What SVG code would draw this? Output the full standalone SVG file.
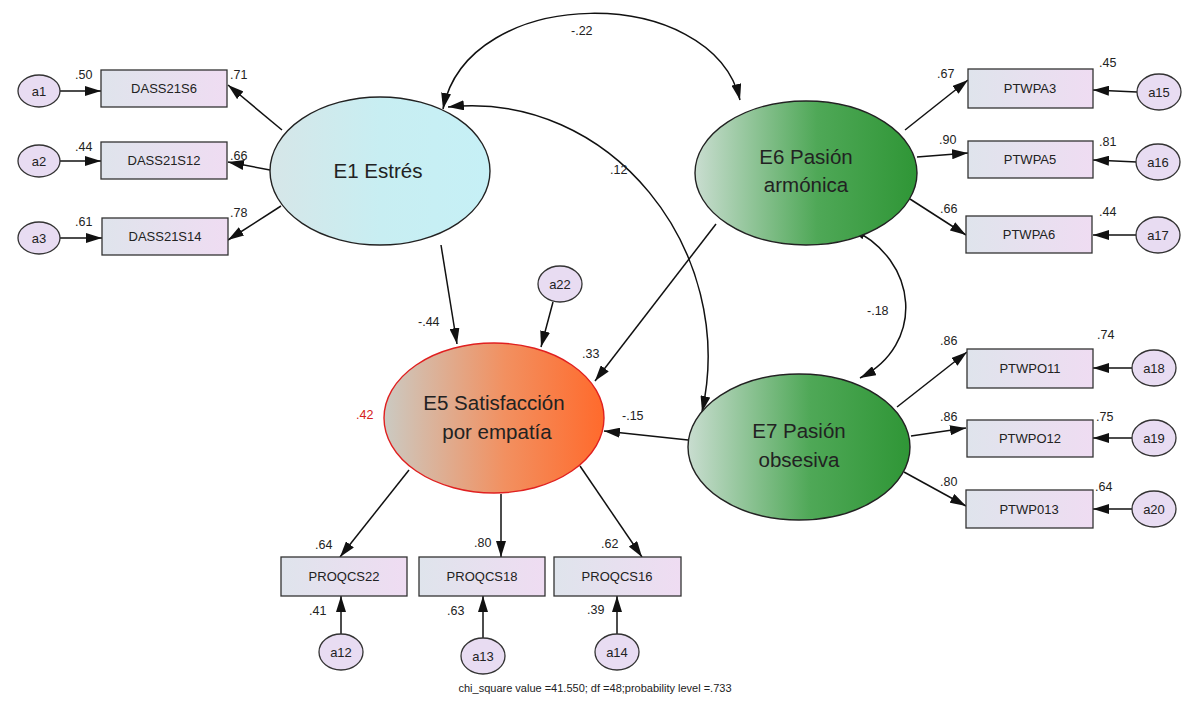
<svg xmlns="http://www.w3.org/2000/svg" width="1190" height="709" viewBox="0 0 1190 709">
<defs>
<style>
text{font-family:"Liberation Sans",Arial,sans-serif;fill:#222}
.lbl{font-size:12.5px}
.box{stroke:#333;stroke-width:1.3;fill:url(#gBox)}
.box-t{font-size:13px;text-anchor:middle}
.err{fill:#e8dcf2;stroke:#333;stroke-width:1.3}
.err-t{font-size:13px;text-anchor:middle}
.big{font-size:20.5px;text-anchor:middle}
.c path,.c line{stroke:#111;stroke-width:1.5;fill:none;marker-end:url(#ah)}
.c .both{marker-start:url(#ahs)}
</style>
<marker id="ah" viewBox="0 0 16 10" refX="16" refY="5" markerWidth="16" markerHeight="10" markerUnits="userSpaceOnUse" orient="auto"><path d="M0,0 L16,5 L0,10 Z" fill="#111"/></marker>
<marker id="ahs" viewBox="0 0 16 10" refX="0" refY="5" markerWidth="16" markerHeight="10" markerUnits="userSpaceOnUse" orient="auto"><path d="M16,0 L0,5 L16,10 Z" fill="#111"/></marker>
<linearGradient id="gBox" x1="0" y1="0" x2="1" y2="0"><stop offset="0" stop-color="#dfe4ec"/><stop offset="1" stop-color="#efdcf2"/></linearGradient>
<linearGradient id="gE1" x1="0" y1="0" x2="1" y2="0"><stop offset="0" stop-color="#d6e6e8"/><stop offset="0.5" stop-color="#c8eef2"/><stop offset="1" stop-color="#c6f0f6"/></linearGradient>
<linearGradient id="gG" x1="0" y1="0" x2="1" y2="0"><stop offset="0" stop-color="#c9ddd0"/><stop offset="0.55" stop-color="#4fa857"/><stop offset="1" stop-color="#2f9636"/></linearGradient>
<linearGradient id="gE5" x1="0" y1="0" x2="1" y2="0"><stop offset="0" stop-color="#cbcac2"/><stop offset="0.55" stop-color="#f29060"/><stop offset="1" stop-color="#ff6a2c"/></linearGradient>
</defs>
<rect width="1190" height="709" fill="#fff"/>

<g class="c" id="connectors">
<line x1="60" y1="91" x2="101" y2="91"/>
<line x1="60" y1="161" x2="101" y2="161"/>
<line x1="60" y1="238" x2="102" y2="238"/>
<line x1="282" y1="130" x2="228" y2="85"/>
<line x1="270" y1="170" x2="228" y2="162"/>
<line x1="281" y1="206" x2="228" y2="240"/>
<line x1="905" y1="130" x2="968" y2="80"/>
<line x1="917" y1="157" x2="968" y2="153"/>
<line x1="910" y1="199" x2="966" y2="235"/>
<line x1="1137" y1="92" x2="1093" y2="90"/>
<line x1="1137" y1="162" x2="1093" y2="160"/>
<line x1="1137" y1="235" x2="1093" y2="235"/>
<line x1="897" y1="407" x2="967" y2="352"/>
<line x1="911" y1="436" x2="966" y2="428"/>
<line x1="904" y1="472" x2="966" y2="506"/>
<line x1="1132" y1="368" x2="1093" y2="368"/>
<line x1="1132" y1="438" x2="1093" y2="438"/>
<line x1="1132" y1="509" x2="1093" y2="509"/>
<line x1="441" y1="245" x2="457" y2="344"/>
<line x1="553" y1="302" x2="541" y2="347"/>
<line x1="716" y1="224" x2="595" y2="381"/>
<line x1="688" y1="440" x2="604" y2="431"/>
<line x1="409" y1="470" x2="340" y2="557"/>
<line x1="501" y1="494" x2="501" y2="557"/>
<line x1="580" y1="466" x2="642" y2="557"/>
<line x1="341" y1="635" x2="341" y2="596"/>
<line x1="483" y1="638" x2="483" y2="596"/>
<line x1="617" y1="635" x2="617" y2="596"/>
<path class="both" d="M443,109 C468,-17 712,-17 740,100"/>
<path class="both" d="M448,107 C610,90 738,250 702,412"/>
<path class="both" d="M850,228 C920,260 925,345 860,378"/>
</g>

<g id="a1"><ellipse class="err" cx="39" cy="91" rx="21" ry="16"/><text class="err-t" x="39" y="96">a1</text></g>
<g id="a2"><ellipse class="err" cx="39" cy="161" rx="21" ry="16"/><text class="err-t" x="39" y="166">a2</text></g>
<g id="a3"><ellipse class="err" cx="39" cy="238" rx="21" ry="16"/><text class="err-t" x="39" y="243">a3</text></g>

<g id="DASS21S6"><rect class="box" x="101" y="70" width="126" height="37"/><text class="box-t" x="164" y="93">DASS21S6</text></g>
<g id="DASS21S12"><rect class="box" x="101" y="142" width="126" height="37"/><text class="box-t" x="164" y="165">DASS21S12</text></g>
<g id="DASS21S14"><rect class="box" x="102" y="218" width="126" height="37"/><text class="box-t" x="165" y="241">DASS21S14</text></g>

<g id="E1"><ellipse cx="380" cy="171" rx="110" ry="74" fill="url(#gE1)" stroke="#222" stroke-width="1.4"/><text class="big" x="378" y="178">E1 Estrés</text></g>

<g id="E6"><ellipse cx="806" cy="173" rx="111" ry="72" fill="url(#gG)" stroke="#222" stroke-width="1.4"/><text class="big" x="806" y="164">E6 Pasión</text><text class="big" x="806" y="192">armónica</text></g>

<g id="E7"><ellipse cx="799" cy="447" rx="111" ry="73" fill="url(#gG)" stroke="#222" stroke-width="1.4"/><text class="big" x="799" y="438">E7 Pasión</text><text class="big" x="799" y="467">obsesiva</text></g>

<g id="E5"><ellipse cx="494" cy="418" rx="110" ry="75" fill="url(#gE5)" stroke="#e02020" stroke-width="1.4"/><text class="big" x="494" y="410">E5 Satisfacción</text><text class="big" x="497" y="439">por empatía</text></g>

<g id="a22"><ellipse class="err" cx="560" cy="284" rx="22" ry="18"/><text class="err-t" x="560" y="289">a22</text></g>

<g id="PTWPA3"><rect class="box" x="968" y="69" width="125" height="39"/><text class="box-t" x="1030" y="93">PTWPA3</text></g>
<g id="PTWPA5"><rect class="box" x="968" y="141" width="125" height="37"/><text class="box-t" x="1030" y="164">PTWPA5</text></g>
<g id="PTWPA6"><rect class="box" x="966" y="216" width="126" height="37"/><text class="box-t" x="1029" y="239">PTWPA6</text></g>
<g id="a15"><ellipse class="err" cx="1159" cy="92" rx="22" ry="18"/><text class="err-t" x="1159" y="97">a15</text></g>
<g id="a16"><ellipse class="err" cx="1158" cy="162" rx="22" ry="18"/><text class="err-t" x="1158" y="167">a16</text></g>
<g id="a17"><ellipse class="err" cx="1158" cy="235" rx="22" ry="18"/><text class="err-t" x="1158" y="240">a17</text></g>

<g id="PTWPO11"><rect class="box" x="967" y="349" width="126" height="39"/><text class="box-t" x="1030" y="373">PTWPO11</text></g>
<g id="PTWPO12"><rect class="box" x="967" y="420" width="126" height="37"/><text class="box-t" x="1030" y="443">PTWPO12</text></g>
<g id="PTWP013"><rect class="box" x="966" y="490" width="127" height="38"/><text class="box-t" x="1029" y="514">PTWP013</text></g>
<g id="a18"><ellipse class="err" cx="1154" cy="368" rx="22" ry="18"/><text class="err-t" x="1154" y="373">a18</text></g>
<g id="a19"><ellipse class="err" cx="1154" cy="438" rx="22" ry="18"/><text class="err-t" x="1154" y="443">a19</text></g>
<g id="a20"><ellipse class="err" cx="1154" cy="509" rx="22" ry="18"/><text class="err-t" x="1154" y="514">a20</text></g>

<g id="PROQCS22"><rect class="box" x="281" y="557" width="126" height="39"/><text class="box-t" x="344" y="581">PROQCS22</text></g>
<g id="PROQCS18"><rect class="box" x="419" y="557" width="126" height="39"/><text class="box-t" x="482" y="581">PROQCS18</text></g>
<g id="PROQCS16"><rect class="box" x="554" y="557" width="127" height="39"/><text class="box-t" x="617" y="581">PROQCS16</text></g>
<g id="a12"><ellipse class="err" cx="341" cy="652" rx="22" ry="18"/><text class="err-t" x="341" y="657">a12</text></g>
<g id="a13"><ellipse class="err" cx="483" cy="656" rx="22" ry="18"/><text class="err-t" x="483" y="661">a13</text></g>
<g id="a14"><ellipse class="err" cx="617" cy="652" rx="22" ry="18"/><text class="err-t" x="617" y="657">a14</text></g>

<g id="labels" class="lbl">
<text class="lbl" x="75" y="79">.50</text>
<text class="lbl" x="75" y="151">.44</text>
<text class="lbl" x="75" y="226">.61</text>
<text class="lbl" x="230" y="79">.71</text>
<text class="lbl" x="230" y="160">.66</text>
<text class="lbl" x="230" y="217">.78</text>
<text class="lbl" x="571" y="35">-.22</text>
<text class="lbl" x="610" y="174">.12</text>
<text class="lbl" x="937" y="78">.67</text>
<text class="lbl" x="939" y="144">.90</text>
<text class="lbl" x="940" y="213">.66</text>
<text class="lbl" x="1099" y="67">.45</text>
<text class="lbl" x="1099" y="146">.81</text>
<text class="lbl" x="1099" y="216">.44</text>
<text class="lbl" x="867" y="315">-.18</text>
<text class="lbl" x="940" y="345">.86</text>
<text class="lbl" x="940" y="421">.86</text>
<text class="lbl" x="940" y="486">.80</text>
<text class="lbl" x="1097" y="339">.74</text>
<text class="lbl" x="1096" y="421">.75</text>
<text class="lbl" x="1095" y="491">.64</text>
<text class="lbl" x="418" y="326">-.44</text>
<text class="lbl" x="582" y="358">.33</text>
<text class="lbl" x="622" y="420">-.15</text>
<text class="lbl" x="356" y="419" style="fill:#d42020">.42</text>
<text class="lbl" x="315" y="549">.64</text>
<text class="lbl" x="474" y="547">.80</text>
<text class="lbl" x="601" y="548">.62</text>
<text class="lbl" x="309" y="615">.41</text>
<text class="lbl" x="447" y="615">.63</text>
<text class="lbl" x="587" y="614">.39</text>
</g>
<text x="595" y="692" style="font-size:11px;text-anchor:middle">chi_square value =41.550; df =48;probability level =.733</text>
</svg>
